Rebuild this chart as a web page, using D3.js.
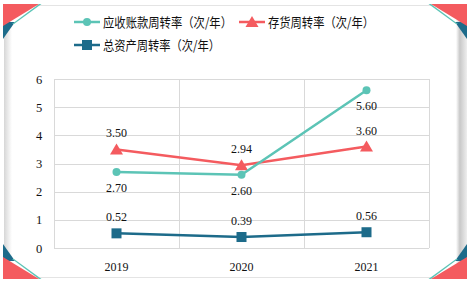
<!DOCTYPE html>
<html>
<head>
<meta charset="utf-8">
<script src="https://cdn.jsdelivr.net/npm/d3@7"></script>
<style>
  html, body { margin: 0; padding: 0; background: #fff; }
  svg { display: block; }
</style>
</head>
<body>
<script>
(() => {
    // data
    var years = ["2019", "2020", "2021"];
    var arTurnover = [2.70, 2.60, 5.60];
    var invTurnover = [3.50, 2.94, 3.60];
    var assetTurnover = [0.52, 0.39, 0.56];
    var yTicks = [0, 1, 2, 3, 4, 5, 6];

    var W = 472, H = 284;
    var teal = "#5cc4b6", red = "#f45b5f", blue = "#1d6b8a";
    var serif = "'Liberation Serif', 'Times New Roman', serif";

    var svg = d3.select("body").append("svg").attr("width", W).attr("height", H);

    // card frame with soft side shadows
    var defs = svg.append("defs");
    var gl = defs.append("linearGradient").attr("id", "gl");
    gl.append("stop").attr("offset", "0").attr("stop-color", "#d6d6d6");
    gl.append("stop").attr("offset", "1").attr("stop-color", "#ffffff");
    var gr = defs.append("linearGradient").attr("id", "gr");
    gr.append("stop").attr("offset", "0").attr("stop-color", "#ffffff");
    gr.append("stop").attr("offset", "0.35").attr("stop-color", "#c8c8c8");
    gr.append("stop").attr("offset", "1").attr("stop-color", "#eeeeee");

    svg.append("rect").attr("x", 4).attr("y", 5).attr("width", 8).attr("height", 272).attr("fill", "url(#gl)");
    svg.append("rect").attr("x", 456).attr("y", 5).attr("width", 11).attr("height", 272).attr("fill", "url(#gr)");
    svg.append("line").attr("x1", 4).attr("x2", 467).attr("y1", 5.5).attr("y2", 5.5).attr("stroke", "#e4e4e4");
    svg.append("line").attr("x1", 4).attr("x2", 467).attr("y1", 277.5).attr("y2", 277.5).attr("stroke", "#e4e4e4");

    // corner decorations (drawn for top-left, mirrored to other corners)
    var corner = [
        { c: blue, p: [[0, 18], [12, 18], [0, 35]] },
        { c: teal, p: [[36, 0], [38.5, 0], [11, 20], [9, 20]] },
        { c: red, p: [[0, 0], [36, 0], [0, 22]] }
    ];
    var corners = [
        { x: 3, y: 4, sx: 1, sy: 1 },
        { x: 467, y: 4, sx: -1, sy: 1 },
        { x: 3, y: 279, sx: 1, sy: -1 },
        { x: 467, y: 279, sx: -1, sy: -1 }
    ];
    corners.forEach(k => {
        var g = svg.append("g").attr("transform", "translate(" + [k.x, k.y] + ") scale(" + [k.sx, k.sy] + ")");
        corner.forEach(t => {
            g.append("polygon").attr("points", t.p.map(d => d.join(",")).join(" ")).attr("fill", t.c);
        });
    });

    // plot area
    var margin = { top: 79, bottom: 36, left: 54, right: 43 };
    var w = W - margin.left - margin.right,
        h = H - margin.top - margin.bottom;
    var graph = svg.append("g").attr("transform", "translate(" + [margin.left, margin.top] + ")");

    var x = d3.scaleBand().domain(years).range([0, w]);
    var y = d3.scaleLinear().domain([0, 6]).range([h, 0]);
    var cx = d => x(d) + x.bandwidth() / 2;

    // gridlines
    graph.selectAll(".hgrid").data(yTicks).enter().append("line")
        .attr("x1", 0).attr("x2", w)
        .attr("y1", d => Math.round(y(d)) + 0.5).attr("y2", d => Math.round(y(d)) + 0.5)
        .attr("stroke", "#d9d9d9").attr("stroke-width", 1);
    var vlines = [0].concat(years.map(d => x(d) + x.bandwidth()));
    graph.selectAll(".vgrid").data(vlines).enter().append("line")
        .attr("x1", d => Math.round(d) + 0.5).attr("x2", d => Math.round(d) + 0.5)
        .attr("y1", 0).attr("y2", h)
        .attr("stroke", "#d9d9d9").attr("stroke-width", 1);

    // axes
    var yAxis = graph.append("g").attr("transform", "translate(-15,0)")
        .call(d3.axisLeft(y).tickValues(yTicks).tickFormat(d3.format("d")).tickSize(0).tickPadding(0));
    yAxis.select(".domain").remove();
    yAxis.selectAll("text").attr("font-family", serif)
        .attr("font-size", 12.5).attr("fill", "#111").attr("text-anchor", "middle");

    var xAxis = graph.append("g").attr("transform", "translate(0," + h + ")")
        .call(d3.axisBottom(x).tickSize(0).tickPadding(14));
    xAxis.select(".domain").remove();
    xAxis.selectAll("text").attr("font-family", serif)
        .attr("font-size", 12).attr("fill", "#111");

    var series = [
        { name: "应收账款周转率（次/年）", data: arTurnover, color: teal, shape: "circle", lab: 1 },
        { name: "存货周转率（次/年）", data: invTurnover, color: red, shape: "triangle", lab: -1 },
        { name: "总资产周转率（次/年）", data: assetTurnover, color: blue, shape: "square", lab: -1 }
    ];

    var line = d3.line().x((d, i) => cx(years[i])).y(d => y(d));

    function marker(g, shape, color) {
        if (shape === "circle") {
            g.append("circle").attr("r", 4).attr("fill", color);
        } else if (shape === "triangle") {
            g.append("path").attr("d", "M0,-6L6.5,5L-6.5,5Z").attr("fill", color);
        } else {
            g.append("rect").attr("x", -5).attr("y", -5).attr("width", 10).attr("height", 10).attr("fill", color);
        }
    }

    // draw blue, red, then teal on top
    [series[2], series[1], series[0]].forEach(s => {
        graph.append("path").datum(s.data).attr("d", line)
            .attr("fill", "none").attr("stroke", s.color).attr("stroke-width", 2.5);
        s.data.forEach((v, i) => {
            var g = graph.append("g").attr("transform", "translate(" + [cx(years[i]), y(v)] + ")");
            marker(g, s.shape, s.color);
            graph.append("text")
                .attr("x", cx(years[i]))
                .attr("y", y(v) + (s.lab > 0 ? 20 : -12))
                .attr("text-anchor", "middle")
                .attr("font-family", serif)
                .attr("font-size", 12).attr("fill", "#111")
                .text(v.toFixed(2));
        });
    });

    // legend
    var legendPos = [[74, 22], [239, 22], [74, 45]];
    var legendLen = [129, 106, 117];
    series.forEach((s, i) => {
        var g = svg.append("g").attr("transform", "translate(" + legendPos[i] + ")");
        g.append("line").attr("x1", 0).attr("x2", 26).attr("y1", 0).attr("y2", 0)
            .attr("stroke", s.color).attr("stroke-width", 2.5);
        var m = g.append("g").attr("transform", "translate(13,0)");
        marker(m, s.shape, s.color);
        g.append("text").attr("x", 29).attr("y", 5)
            .attr("font-family", "'Noto Sans CJK SC', sans-serif")
            .attr("font-size", 13).attr("fill", "#111")
            .attr("textLength", legendLen[i]).attr("lengthAdjust", "spacingAndGlyphs")
            .text(s.name);
    });
})()
</script>
</body>
</html>
